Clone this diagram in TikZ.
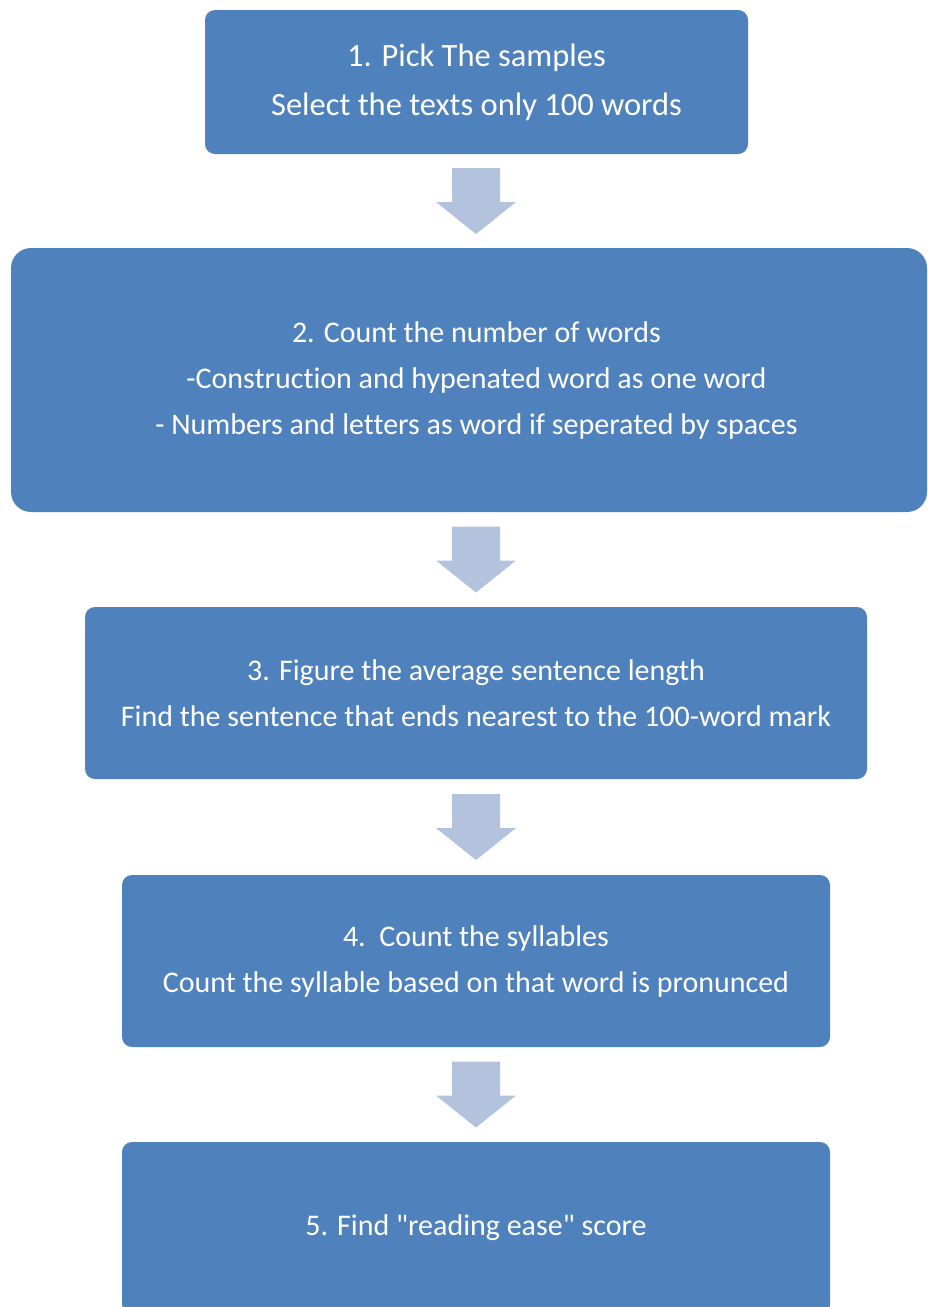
\documentclass[tikz,border=0pt]{standalone}
\usepackage{fontspec}
\setmainfont{Carlito}[Ligatures={NoCommon,TeXOff}]
\usetikzlibrary{calc}
\definecolor{boxblue}{HTML}{4F81BD}
\definecolor{arrowblue}{HTML}{B3C3DE}
\begin{document}
\begin{tikzpicture}[x=1pt,y=-1pt,
  stepbox/.style={fill=boxblue, draw=none, rounded corners=10pt, inner sep=0pt,
    text=white, font=\fontsize{30}{46}\selectfont, align=center},
  steptext/.style={text=white, font=\fontsize{30}{46}\selectfont, align=center, inner sep=0pt},
  arrowfill/.style={fill=arrowblue, draw=none},
  flowarrow/.pic={\fill[arrowfill] (-24,-33) -- (24,-33) -- (24,1) -- (40,1) -- (0,33) -- (-40,1) -- (-24,1) -- cycle;}]
\useasboundingbox (0,0) rectangle (928,1307);

\node[stepbox, font=\fontsize{32.5}{49}\selectfont, minimum width=543pt, minimum height=144pt] (b1) at (476.5,82)
  {1. Pick The samples\\Select the texts only 100 words};
\node[stepbox, rounded corners=20pt, minimum width=916pt, minimum height=264pt] (b2) at (469,380) {};
\node[steptext] (t2) at (476.5,380)
  {2. Count the number of words\\-Construction and hypenated word as one word\\- Numbers and letters as word if seperated by spaces};
\node[stepbox, minimum width=782pt, minimum height=172pt] (b3) at (476,693)
  {3. Figure the average sentence length\\Find the sentence that ends nearest to the 100-word mark};
\node[stepbox, minimum width=708pt, minimum height=172pt] (b4) at (476,961)
  {4.\ \ Count the syllables\\Count the syllable based on that word is pronunced};
\node[stepbox, minimum width=708pt, minimum height=172pt] (b5) at (476,1228)
  {5. Find "reading ease" score};

\coordinate (m1) at ($(b1.south)!0.5!(b2.north)$);
\coordinate (m2) at ($(b2.south)!0.5!(b3.north)$);
\coordinate (m3) at ($(b3.south)!0.5!(b4.north)$);
\coordinate (m4) at ($(b4.south)!0.5!(b5.north)$);
\pic at (m1 -| b4) {flowarrow};
\pic at (m2 -| b4) {flowarrow};
\pic at (m3 -| b4) {flowarrow};
\pic at (m4 -| b4) {flowarrow};
\end{tikzpicture}
\end{document}
